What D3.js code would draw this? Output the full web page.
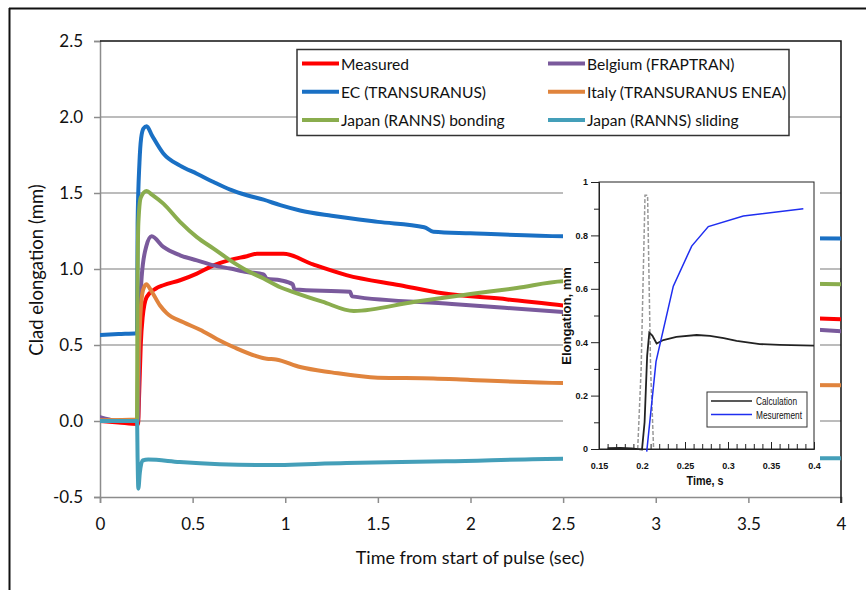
<!DOCTYPE html>
<html>
<head>
<meta charset="utf-8">
<title>Clad elongation</title>
<script src="https://d3js.org/d3.v7.min.js"></script>
<style>
  body { margin: 0; background: #fff; }
  .lbl { font-family: Lato, "Open Sans", sans-serif; fill: #111; }
  .ins { font-family: "Liberation Sans Narrow", "Liberation Sans", Arial, sans-serif; fill: #111; }
</style>
</head>
<body>
<script>
// main chart: [time s, elongation mm]
var measured = [[0,0],[0.1,-0.01],[0.205,-0.02],[0.212,0.2],[0.22,0.5],[0.23,0.68],[0.252,0.816],[0.3,0.87],[0.342,0.893],[0.432,0.926],[0.523,0.97],[0.613,1.024],[0.703,1.06],[0.793,1.084],[0.847,1.1],[0.99,1.1],[1.15,1.03],[1.33,0.96],[1.62,0.893],[1.85,0.84],[2.2,0.8],[2.5,0.76],[3,0.72],[3.5,0.69],[4,0.67]];
var belgium = [[0,0.026],[0.05,0.01],[0.1,0],[0.205,0],[0.212,0.5],[0.225,0.95],[0.25,1.15],[0.279,1.215],[0.342,1.145],[0.432,1.09],[0.523,1.057],[0.613,1.024],[0.703,1.003],[0.793,0.98],[0.883,0.965],[0.9,0.937],[0.973,0.926],[1.04,0.9],[1.05,0.865],[1.35,0.85],[1.36,0.82],[1.9,0.77],[2.5,0.717],[3,0.67],[3.5,0.63],[4,0.59]];
var ec = [[0,0.565],[0.1,0.572],[0.2,0.578],[0.203,1.3],[0.213,1.7],[0.222,1.86],[0.235,1.925],[0.252,1.939],[0.28,1.88],[0.342,1.76],[0.432,1.68],[0.523,1.627],[0.613,1.572],[0.703,1.522],[0.793,1.485],[0.883,1.456],[0.973,1.42],[1.08,1.385],[1.25,1.35],[1.5,1.31],[1.75,1.275],[1.8,1.245],[2,1.235],[2.5,1.215],[3,1.21],[3.5,1.205],[4,1.2]];
var italy = [[0,0.005],[0.2,0.01],[0.205,0.3],[0.218,0.7],[0.232,0.86],[0.25,0.9],[0.275,0.86],[0.324,0.76],[0.36,0.71],[0.45,0.65],[0.54,0.6],[0.63,0.54],[0.72,0.487],[0.9,0.41],[0.95,0.405],[1.08,0.355],[1.25,0.32],[1.5,0.285],[1.8,0.28],[2,0.27],[2.5,0.25],[3,0.245],[3.5,0.24],[4,0.235]];
var bonding = [[0,0],[0.2,0],[0.202,0.8],[0.207,1.3],[0.22,1.47],[0.252,1.513],[0.28,1.49],[0.342,1.43],[0.432,1.31],[0.523,1.21],[0.613,1.134],[0.703,1.057],[0.793,0.99],[0.883,0.937],[0.973,0.88],[1.04,0.85],[1.2,0.785],[1.37,0.724],[1.7,0.785],[2,0.835],[2.25,0.875],[2.5,0.92],[3,0.93],[3.5,0.91],[4,0.9]];
var sliding = [[0,0],[0.2,0],[0.203,-0.25],[0.207,-0.445],[0.215,-0.34],[0.23,-0.26],[0.26,-0.254],[0.43,-0.27],[0.88,-0.29],[1.33,-0.276],[1.87,-0.265],[2.5,-0.248],[3,-0.246],[3.5,-0.245],[4,-0.245]];

var seriesNames = ["Measured","EC (TRANSURANUS)","Japan (RANNS) bonding","Belgium (FRAPTRAN)","Italy (TRANSURANUS ENEA)","Japan (RANNS) sliding"];
var seriesColors = ["#ff0000","#1a70c4","#8aad4e","#7a5a9c","#e0843d","#449fb9"];
var seriesData = [measured, ec, bonding, belgium, italy, sliding];
var drawOrder = [0,3,1,4,2,5];
var legendOrder = [0,3,1,4,2,5];

var xTicks = [0,0.5,1,1.5,2,2.5,3,3.5,4];
var yTicks = [-0.5,0,0.5,1,1.5,2,2.5];

// inset: [time s, elongation mm]
var calculation = [[0.16,0.003],[0.175,0.004],[0.188,0.002],[0.2,-0.002],[0.203,0.1],[0.206,0.35],[0.2085,0.436],[0.212,0.425],[0.217,0.395],[0.2248,0.408],[0.24,0.42],[0.2636,0.427],[0.279,0.424],[0.295,0.415],[0.31,0.405],[0.337,0.393],[0.36,0.39],[0.4,0.387]];
var measurement = [[0.2055,-0.01],[0.2163,0.327],[0.2364,0.61],[0.2578,0.76],[0.2771,0.833],[0.3178,0.873],[0.3876,0.9]];
var pulse = [[0.195,0],[0.199,0.3],[0.2035,0.95],[0.2065,0.95],[0.21,0.3],[0.2135,0]];
var insetXTicks = [0.15,0.2,0.25,0.3,0.35,0.4];
var insetYTicks = [0,0.2,0.4,0.6,0.8,1];

var W = 866, H = 590;
var svg = d3.select("body").append("svg").attr("width", W).attr("height", H);

// outer frame
svg.append("line").attr("x1",9).attr("x2",W).attr("y1",8.5).attr("y2",8.5).attr("stroke","#111").attr("stroke-width",2);
svg.append("line").attr("x1",9.5).attr("x2",9.5).attr("y1",8).attr("y2",H).attr("stroke","#111").attr("stroke-width",2);

var x = d3.scaleLinear().domain([0,4]).range([100,841]);
var y = d3.scaleLinear().domain([-0.5,2.5]).range([497,41]);

// gridlines
svg.append("g").selectAll("line").data(yTicks.filter(function(d){return d>-0.5 && d<2.5;}))
  .enter().append("line")
  .attr("x1",x(0)).attr("x2",x(4)).attr("y1",function(d){return y(d);}).attr("y2",function(d){return y(d);})
  .attr("stroke","#a6a6a6").attr("stroke-width",1.5);

// axes
var yAxis = svg.append("g").attr("transform","translate(100,0)")
  .call(d3.axisLeft(y).tickValues(yTicks).tickSize(6).tickPadding(11));
var xAxis = svg.append("g").attr("transform","translate(0,497)")
  .call(d3.axisBottom(x).tickValues(xTicks).tickFormat(function(d){return String(d);}).tickSize(6).tickPadding(15));
[yAxis, xAxis].forEach(function(a){
  a.select(".domain").attr("stroke","#8c8c8c").attr("stroke-width",1.5);
  a.selectAll(".tick line").attr("stroke","#8c8c8c").attr("stroke-width",1.5);
  a.selectAll("text").attr("class","lbl").style("font-size","17px").attr("fill","#111");
});
yAxis.selectAll(".tick text").text(function(d){return d<0 ? "-" + Math.abs(d).toFixed(1) : d.toFixed(1);});

// top and right border
svg.append("path").attr("d","M100,41H841V503").attr("fill","none").attr("stroke","#111").attr("stroke-width",1.5);

// series
svg.append("clipPath").attr("id","plotclip").append("rect").attr("x",100).attr("y",36).attr("width",741).attr("height",466);
var line = d3.line().x(function(d){return x(d[0]);}).y(function(d){return y(d[1]);}).curve(d3.curveMonotoneX);
svg.append("g").attr("clip-path","url(#plotclip)").selectAll("path").data(drawOrder).enter().append("path")
  .attr("d",function(i){return line(seriesData[i]);})
  .attr("fill","none").attr("stroke",function(i){return seriesColors[i];})
  .attr("stroke-width",4).attr("stroke-linejoin","round").attr("stroke-linecap","round");

// legend
var lg = svg.append("g");
lg.append("rect").attr("x",297).attr("y",49.5).attr("width",492).attr("height",86)
  .attr("fill","#fff").attr("stroke","#333").attr("stroke-width",1.5);
var items = lg.selectAll("g").data(legendOrder).enter().append("g")
  .attr("transform",function(d,k){return "translate(" + (k%2===0 ? 302 : 548) + "," + (63.5 + Math.floor(k/2)*28.3) + ")";});
items.append("line").attr("x1",0).attr("x2",37).attr("y1",0).attr("y2",0)
  .attr("stroke",function(i){return seriesColors[i];}).attr("stroke-width",4);
items.append("text").attr("class","lbl").attr("x",39).attr("y",6).style("font-size","15.6px")
  .text(function(i){return seriesNames[i];});

// axis titles
svg.append("text").attr("class","lbl").attr("x",470).attr("y",564).attr("text-anchor","middle")
  .style("font-size","18px").text("Time from start of pulse (sec)");
svg.append("text").attr("class","lbl").attr("transform","translate(43,270) rotate(-90)").attr("text-anchor","middle")
  .style("font-size","18.5px").text("Clad elongation (mm)");

// inset
var ix = d3.scaleLinear().domain([0.15,0.4]).range([599,814]);
var iy = d3.scaleLinear().domain([0,1]).range([449,182]);
var inset = svg.append("g");
inset.append("rect").attr("x",563).attr("y",172).attr("width",257).attr("height",318).attr("fill","#fff");
inset.append("rect").attr("x",599).attr("y",182).attr("width",215).attr("height",267)
  .attr("fill","none").attr("stroke","#222").attr("stroke-width",1);

var iyAxis = inset.append("g").attr("transform","translate(599,0)")
  .call(d3.axisLeft(iy).tickValues(insetYTicks).tickFormat(function(d){return d===0||d===1 ? String(d) : d.toFixed(1);}).tickSize(8).tickPadding(3));
inset.append("g").attr("transform","translate(599,0)")
  .call(d3.axisLeft(iy).tickValues([0.1,0.3,0.5,0.7,0.9]).tickFormat("").tickSize(5))
  .select(".domain").remove();
var ixAxis = inset.append("g").attr("transform","translate(0,449)")
  .call(d3.axisBottom(ix).tickValues(insetXTicks).tickFormat(function(d){return String(d);}).tickSize(-7).tickPadding(14));
inset.append("g").attr("transform","translate(0,449)")
  .call(d3.axisBottom(ix).tickValues(d3.range(16,40).map(function(k){return k/100;}).filter(function(v){return Math.round(v*100)%5!==0;})).tickFormat("").tickSize(-5))
  .select(".domain").remove();
inset.selectAll(".domain, .tick line").attr("stroke","#222");
[iyAxis, ixAxis].forEach(function(a){
  a.selectAll("text").attr("class","ins").style("font-size","9px").style("font-weight","bold").attr("fill","#222");
});

var iline = d3.line().x(function(d){return ix(d[0]);}).y(function(d){return iy(d[1]);});
inset.append("path").attr("d",iline(pulse)).attr("fill","none").attr("stroke","#999").attr("stroke-width",1.5).attr("stroke-dasharray","4,2");
inset.append("path").attr("d",iline(calculation)).attr("fill","none").attr("stroke","#222").attr("stroke-width",1.8);
inset.append("path").attr("d",iline(measurement)).attr("fill","none").attr("stroke","#1f2ef0").attr("stroke-width",1.5);

inset.append("text").attr("class","ins").attr("x",705).attr("y",485).attr("text-anchor","middle")
  .style("font-size","13px").style("font-weight","bold").attr("textLength",37).attr("lengthAdjust","spacingAndGlyphs").text("Time, s");
inset.append("text").attr("class","ins").attr("transform","translate(571,316) rotate(-90)").attr("text-anchor","middle")
  .style("font-size","13px").style("font-weight","bold").text("Elongation, mm");

var il = inset.append("g");
il.append("rect").attr("x",707).attr("y",392).attr("width",100).attr("height",35).attr("fill","#fff").attr("stroke","#333").attr("stroke-width",1);
var insetNames = ["Calculation","Mesurement"];
var insetColors = ["#222","#1f2ef0"];
var insetTextLen = [41,46];
var ili = il.selectAll("g").data(insetNames).enter().append("g")
  .attr("transform",function(d,k){return "translate(711," + (401 + k*13.5) + ")";});
ili.append("line").attr("x1",0).attr("x2",41).attr("stroke",function(d,k){return insetColors[k];}).attr("stroke-width",1.5);
ili.append("text").attr("class","ins").attr("x",45).attr("y",4).style("font-size","11px")
  .attr("textLength",function(d,k){return insetTextLen[k];}).attr("lengthAdjust","spacingAndGlyphs")
  .text(function(d){return d;});
</script>
</body>
</html>
